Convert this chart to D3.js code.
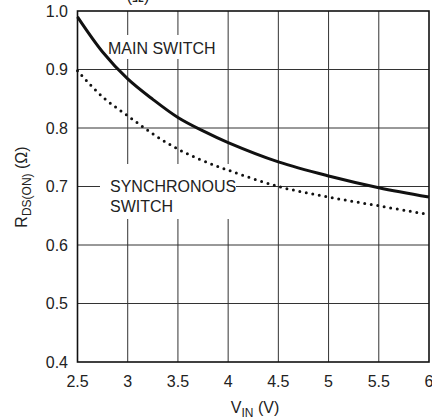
<!DOCTYPE html>
<html>
<head>
<meta charset="utf-8">
<script src="https://cdn.jsdelivr.net/npm/d3@7"></script>
<style>
  body { margin:0; background:#fff; }
  svg text { font-family: 'Liberation Sans', Arial, sans-serif; fill:#222; }
</style>
</head>
<body>
<div id="chart"></div>
<script>
// values
var vin      = [2.5, 2.75, 3, 3.25, 3.5, 3.75, 4, 4.5, 5, 5.5, 6];
var mainSw   = [0.99, 0.93, 0.884, 0.849, 0.818, 0.795, 0.775, 0.742, 0.718, 0.698, 0.682];
var syncSw   = [0.898, 0.853, 0.821, 0.79, 0.764, 0.744, 0.728, 0.700, 0.682, 0.667, 0.652];
var xTicks   = [2.5, 3, 3.5, 4, 4.5, 5, 5.5, 6];
var xLabels  = ['2.5','3','3.5','4','4.5','5','5.5','6'];
var yTicks   = [0.4, 0.5, 0.6, 0.7, 0.8, 0.9, 1.0];

var width=432, height=420;
// plot box (window.top is reserved, so p_ names)
var p_left=77.5, p_right=429, p_top=11, p_bottom=362;

var svg=d3.select('#chart').append('svg')
    .attr('width',width)
    .attr('height',height);

var x=d3.scaleLinear().domain([2.5,6]).range([p_left,p_right]);
var y=d3.scaleLinear().domain([0.4,1.0]).range([p_bottom,p_top]);

// grid
svg.append('g').selectAll('line').data(xTicks.slice(1,-1)).enter()
    .append('line')
    .attr('x1',function(d){ return x(d); })
    .attr('x2',function(d){ return x(d); })
    .attr('y1',p_top).attr('y2',p_bottom)
    .style('stroke','#333').style('stroke-width',1);

svg.append('g').selectAll('line').data(yTicks.slice(1,-1)).enter()
    .append('line')
    .attr('x1',p_left).attr('x2',p_right)
    .attr('y1',function(d){ return y(d); })
    .attr('y2',function(d){ return y(d); })
    .style('stroke','#333').style('stroke-width',1);

// knockouts behind the curve labels
svg.append('rect').attr('x',104).attr('y',35).attr('width',114).attr('height',24).style('fill','#fff');
svg.append('rect').attr('x',100).attr('y',164).attr('width',136).attr('height',55).style('fill','#fff');

// frame
svg.append('rect')
    .attr('x',p_left).attr('y',p_top)
    .attr('width',p_right-p_left).attr('height',p_bottom-p_top)
    .style('fill','none').style('stroke','#111').style('stroke-width',1.6);

var line=function(vals){
    return d3.line()
        .x(function(d,i){ return x(vin[i]); })
        .y(function(d){ return y(d); })
        .curve(d3.curveCatmullRom.alpha(0.5))(vals);
};

svg.append('path')
    .attr('d',line(mainSw))
    .style('fill','none').style('stroke','#111').style('stroke-width',3);

svg.append('path')
    .attr('d',line(syncSw))
    .style('fill','none').style('stroke','#111').style('stroke-width',3)
    .style('stroke-linecap','round').style('stroke-dasharray','0 6.6');

// curve labels
svg.append('text').attr('x',108).attr('y',54).style('font-size','16px').text('MAIN SWITCH');
svg.append('text').attr('x',110).attr('y',192).style('font-size','16px').text('SYNCHRONOUS');
svg.append('text').attr('x',110).attr('y',212).style('font-size','16px').text('SWITCH');

// tick labels
svg.append('g').selectAll('text').data(yTicks).enter()
    .append('text')
    .attr('x',68)
    .attr('y',function(d){ return y(d); })
    .attr('dy','0.36em')
    .attr('text-anchor','end')
    .style('font-size','16px')
    .text(function(d){ return d.toFixed(1); });

svg.append('g').selectAll('text').data(xTicks).enter()
    .append('text')
    .attr('x',function(d){ return x(d); })
    .attr('y',387)
    .attr('text-anchor','middle')
    .style('font-size','16px')
    .text(function(d,i){ return xLabels[i]; });

// axis titles
var xt=svg.append('text').attr('x',255).attr('y',413).attr('text-anchor','middle').style('font-size','16px');
xt.append('tspan').text('V');
xt.append('tspan').attr('dy',4).style('font-size','12px').text('IN');
xt.append('tspan').attr('dy',-4).text(' (V)');

var yt=svg.append('text')
    .attr('transform','translate(27,187) rotate(-90)')
    .attr('text-anchor','middle')
    .style('font-size','16px');
yt.append('tspan').text('R');
yt.append('tspan').attr('dy',4).style('font-size','12px').text('DS(ON)');
yt.append('tspan').attr('dy',-4).text(' (Ω)');

// clipped top title fragment
svg.append('text').attr('x',138).attr('y',2).attr('text-anchor','middle').style('font-size','16px').text('(Ω)');
</script>
</body>
</html>
